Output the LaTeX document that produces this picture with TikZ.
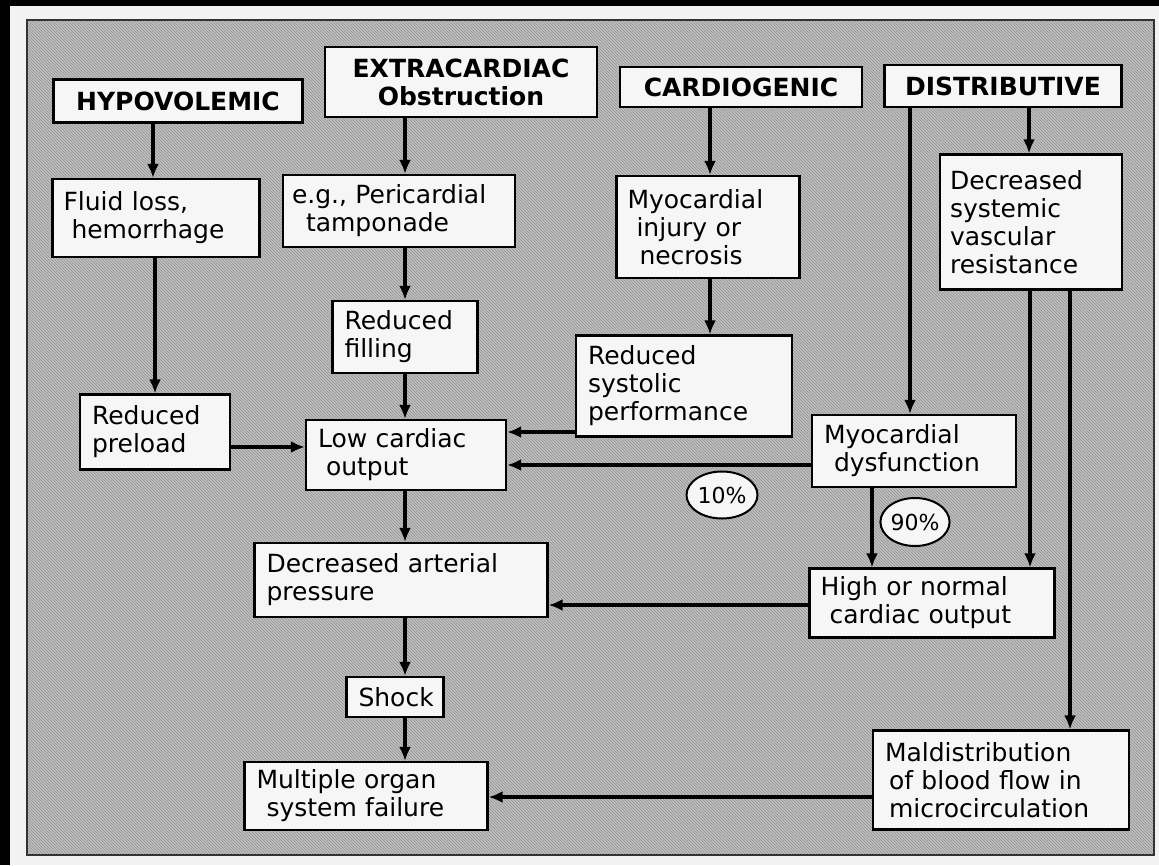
\documentclass[tikz,border=0pt]{standalone}
\usepackage{fontspec}
\setmainfont{DejaVu Sans}
\usetikzlibrary{arrows.meta,shapes.geometric,patterns}
\definecolor{panelgray}{RGB}{192,192,192}
\definecolor{hatch}{RGB}{145,145,145}
\definecolor{boxwhite}{RGB}{246,246,246}
\definecolor{outside}{RGB}{242,242,242}
\newcommand{\bodyfont}{\fontsize{25}{28}\selectfont}
\newcommand{\titlefont}{\fontsize{25}{28}\selectfont\bfseries}
\tikzset{
  box/.style={draw=black, fill=boxwhite, line width=2.2pt, inner xsep=12pt, inner ysep=0pt, align=left, font=\bodyfont},
  titlebox/.style={draw=black, fill=boxwhite, line width=2.2pt, inner sep=0pt, align=center, font=\titlefont},
  pct/.style={ellipse, draw=black, fill=boxwhite, line width=2pt, inner sep=0pt, font=\fontsize{22}{24}\selectfont},
  arr/.style={line width=3.4pt, -{Latex[length=14pt,width=12pt]}}
}
\begin{document}
\begin{tikzpicture}[x=1pt,y=-1pt]
\useasboundingbox (0,0) rectangle (1159,865);
\fill[outside] (0,0) rectangle (1159,865);
\fill[black] (0,0) rectangle (1159,6);
\fill[black] (0,0) rectangle (10,865);
\fill[panelgray] (27,20) rectangle (1154,855);
\fill[pattern=north west lines, pattern color=hatch] (27,20) rectangle (1154,855);
\draw[line width=1.5pt, black!80] (27,20) rectangle (1154,855);

% titles
\node[titlebox, minimum width=249pt, minimum height=43pt] (hypo) at (178,101) {HYPOVOLEMIC};
\node[titlebox, minimum width=272pt, minimum height=70pt] (extra) at (461,82) {EXTRACARDIAC\\Obstruction};
\node[titlebox, minimum width=242pt, minimum height=40pt] (cardio) at (741,87) {CARDIOGENIC};
\node[titlebox, minimum width=237pt, minimum height=42pt] (distr) at (1003,86) {DISTRIBUTIVE};

% boxes
\node[box, text width=185pt, minimum height=78pt, inner xsep=11pt] (fluid) at (156,218) {Fluid loss,\\\hspace*{8pt}hemorrhage};
\node[box, text width=214pt, minimum height=72pt, inner xsep=9pt] (tamp) at (399,211) {e.g., Pericardial\\\hspace*{14pt}tamponade};
\node[box, text width=161pt, minimum height=102pt, inner xsep=11pt] (inj) at (708,227) {Myocardial\\\hspace*{9pt}injury or\\\hspace*{12pt}necrosis};
\node[box, text width=162pt, minimum height=135pt, inner xsep=10pt] (svr) at (1031,222) {Decreased\\systemic\\vascular\\resistance};
\node[box, text width=121pt, minimum height=72pt] (fill) at (405,337) {Reduced\\filling};
\node[box, text width=192pt, minimum height=101pt] (sys) at (684,386) {Reduced\\systolic\\performance};
\node[box, text width=126pt, minimum height=75pt] (pre) at (155,432) {Reduced\\preload};
\node[box, text width=176pt, minimum height=70pt] (lco) at (406,455) {Low cardiac\\\hspace*{8pt}output};
\node[box, text width=180pt, minimum height=72pt] (dys) at (914,451) {Myocardial\\\hspace*{10pt}dysfunction};
\node[box, text width=269pt, minimum height=74pt] (dap) at (401,580) {Decreased arterial\\pressure};
\node[box, text width=223pt, minimum height=69pt, inner xsep=11pt] (hno) at (932,603) {High or normal\\\hspace*{9pt}cardiac output};
\node[box, text width=73pt, minimum height=40pt] (shock) at (395,697) {Shock};
\node[box, text width=219pt, minimum height=68pt] (mos) at (366,796) {Multiple organ\\\hspace*{10pt}system failure};
\node[box, text width=232pt, minimum height=99pt] (mal) at (1001,780) {Maldistribution\\\hspace*{4pt}of blood flow in\\\hspace*{4pt}microcirculation};

% percentage ellipses
\node[pct, minimum width=71pt, minimum height=47pt] (p10) at (722,495) {10\%};
\node[pct, minimum width=66pt, minimum height=48pt] (p90) at (915,522) {90\%};

% arrows
\draw[arr] (hypo.south -| 153,0) -- (fluid.north -| 153,0);
\draw[arr] (extra.south -| 405,0) -- (tamp.north -| 405,0);
\draw[arr] (cardio.south -| 710,0) -- (inj.north -| 710,0);
\draw[arr] (distr.south -| 1029,0) -- (svr.north -| 1029,0);
\draw[arr] (distr.south -| 910,0) -- (dys.north -| 910,0);
\draw[arr] (fluid.south -| 155,0) -- (pre.north -| 155,0);
\draw[arr] (tamp.south -| 405,0) -- (fill.north -| 405,0);
\draw[arr] (fill.south -| 405,0) -- (lco.north -| 405,0);
\draw[arr] (inj.south -| 710,0) -- (sys.north -| 710,0);
\draw[arr] (sys.west |- 0,432) -- (lco.east |- 0,432);
\draw[arr] (pre.east |- 0,447) -- (lco.west |- 0,447);
\draw[arr] (dys.west |- 0,465) -- (lco.east |- 0,465);
\draw[arr] (dys.south -| 872,0) -- (hno.north -| 872,0);
\draw[arr] (svr.south -| 1030,0) -- (hno.north -| 1030,0);
\draw[arr] (svr.south -| 1070,0) -- (mal.north -| 1070,0);
\draw[arr] (lco.south -| 405,0) -- (dap.north -| 405,0);
\draw[arr] (hno.west |- 0,605) -- (dap.east |- 0,605);
\draw[arr] (dap.south -| 405,0) -- (shock.north -| 405,0);
\draw[arr] (shock.south -| 405,0) -- (mos.north -| 405,0);
\draw[arr] (mal.west |- 0,797) -- (mos.east |- 0,797);
\end{tikzpicture}
\end{document}
